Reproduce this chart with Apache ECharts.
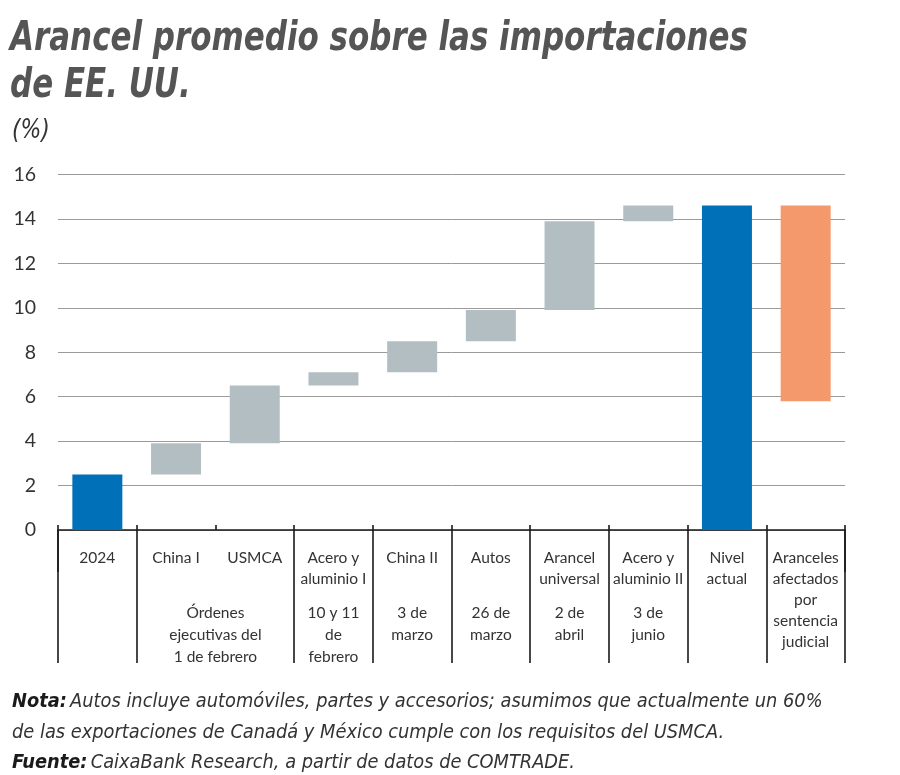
<!DOCTYPE html>
<html>
<head>
<meta charset="utf-8">
<script src="https://cdn.jsdelivr.net/npm/echarts@6/dist/echarts.min.js"></script>
<style>
html,body{margin:0;padding:0;background:#fff;}
#chart{width:900px;height:775px;}
</style>
</head>
<body>
<div id="chart"></div>
<script>
// ---- data ----
var categories = ['2024', 'China I', 'USMCA', 'Acero y\naluminio I', 'China II', 'Autos',
  'Arancel\nuniversal', 'Acero y\naluminio II', 'Nivel\nactual',
  'Aranceles\nafectados\npor\nsentencia\njudicial'];
var barBottom = [0, 2.5, 3.9, 6.5, 7.1, 8.5, 9.9, 13.9, 0, 5.8];
var barTop    = [2.5, 3.9, 6.5, 7.1, 8.5, 9.9, 13.9, 14.6, 14.6, 14.6];
var barKind   = ['total', 'step', 'step', 'step', 'step', 'step', 'step', 'step', 'total', 'court'];
var dateLabels = [
  {text: 'Órdenes\nejecutivas del\n1 de febrero', from: 1, to: 2},
  {text: '10 y 11\nde\nfebrero', from: 3, to: 3},
  {text: '3 de\nmarzo', from: 4, to: 4},
  {text: '26 de\nmarzo', from: 5, to: 5},
  {text: '2 de\nabril', from: 6, to: 6},
  {text: '3 de\njunio', from: 7, to: 7}
];
var yTicks = [0, 2, 4, 6, 8, 10, 12, 14, 16];
var titleText = 'Arancel promedio sobre las importaciones\nde EE. UU.';
var unitText = '(%)';
var noteLines = [
  ['Nota:', 'Autos incluye automóviles, partes y accesorios; asumimos que actualmente un 60%'],
  ['', 'de las exportaciones de Canadá y México cumple con los requisitos del USMCA.'],
  ['Fuente:', 'CaixaBank Research, a partir de datos de COMTRADE.']
];

// ---- styles ----
var colors = {total: '#0071b9', step: '#b3bec3', court: '#f4996b'};
var labelFont = 'Lato, "Open Sans", sans-serif';
var narrowFont = '"Liberation Sans Narrow", "DejaVu Sans Condensed", sans-serif';

var chart = echarts.init(document.getElementById('chart'), null, {renderer: 'canvas'});

var baseData = barBottom.slice();
var heightData = barTop.map(function (t, i) {
  return {value: +(t - barBottom[i]).toFixed(2), itemStyle: {color: colors[barKind[i]]}};
});

var option = {
  animation: false,
  backgroundColor: '#fff',
  grid: {left: 58, right: 55, top: 174.5, bottom: 245, containLabel: false},
  xAxis: [
    {
      type: 'category', data: categories, position: 'bottom',
      axisLine: {show: true, lineStyle: {color: '#1a1a1a', width: 1.6}},
      axisTick: {show: true, length: 133, lineStyle: {color: '#1a1a1a', width: 1.6},
        interval: function (i) { return i !== 2; }},
      axisLabel: {
        show: true, interval: 0, margin: 17, verticalAlign: 'top',
        fontFamily: labelFont, fontSize: 15.5, lineHeight: 21, color: '#333333'
      },
      splitLine: {show: false}
    },
    {
      type: 'category', data: categories, position: 'bottom',
      axisLine: {show: false},
      axisTick: {show: true, inside: true, length: 5, lineStyle: {color: '#1a1a1a', width: 1.6}},
      axisLabel: {show: false}
    },
    {
      type: 'category', data: categories, position: 'bottom',
      axisLine: {show: false},
      axisTick: {show: true, length: 42, lineStyle: {color: '#1a1a1a', width: 1.6},
        interval: function (i) { return i === 2; }},
      axisLabel: {show: false}
    }
  ],
  yAxis: {
    type: 'value', min: 0, max: 16, interval: 2,
    axisLine: {show: false}, axisTick: {show: false},
    axisLabel: {
      margin: 22, fontFamily: labelFont, fontSize: 19.5, color: '#333333',
      formatter: function (v) { return yTicks.indexOf(v) >= 0 ? String(v) : ''; }
    },
    splitLine: {show: true, lineStyle: {color: '#9a9a9a', width: 1}}
  },
  series: [
    {
      type: 'bar', stack: 'w', xAxisIndex: 0, data: baseData,
      itemStyle: {color: 'transparent'}, barWidth: 50, silent: true
    },
    {
      type: 'bar', stack: 'w', xAxisIndex: 0, data: heightData, barWidth: 50
    }
  ]
};
chart.setOption(option);

// date/group labels placed with the category scale
var graphics = dateLabels.map(function (d) {
  var x1 = chart.convertToPixel({xAxisIndex: 0}, d.from);
  var x2 = chart.convertToPixel({xAxisIndex: 0}, d.to);
  var y0 = chart.convertToPixel({yAxisIndex: 0}, 0);
  return {
    type: 'text', x: (x1 + x2) / 2, y: y0 + 72,
    style: {
      text: d.text, textAlign: 'center', textVerticalAlign: 'top',
      font: '15.5px ' + labelFont, lineHeight: 22, fill: '#333333'
    }
  };
});
// title
graphics.push({
  type: 'text', x: 10, y: 16, scaleX: 0.86,
  style: {
    text: titleText, fill: '#555555', lineHeight: 47,
    font: 'italic bold 40px ' + narrowFont
  }
});
graphics.push({
  type: 'text', x: 12, y: 117, scaleX: 0.9,
  style: {text: unitText, fill: '#333333', font: 'italic 27px ' + narrowFont}
});
// footer
var noteText = noteLines.map(function (l) {
  return (l[0] ? '{b|' + l[0] + '} ' : '') + '{n|' + l[1] + '}';
}).join('\n');
graphics.push({
  type: 'text', x: 12, y: 687, scaleX: 0.99,
  style: {
    rich: {
      b: {fontFamily: narrowFont, fontStyle: 'italic', fontWeight: 'bold', fontSize: 20, fill: '#1a1a1a', lineHeight: 30.5},
      n: {fontFamily: narrowFont, fontStyle: 'italic', fontSize: 20, fill: '#333333', lineHeight: 30.5}
    },
    text: noteText
  }
});
chart.setOption({graphic: graphics});
</script>
</body>
</html>
